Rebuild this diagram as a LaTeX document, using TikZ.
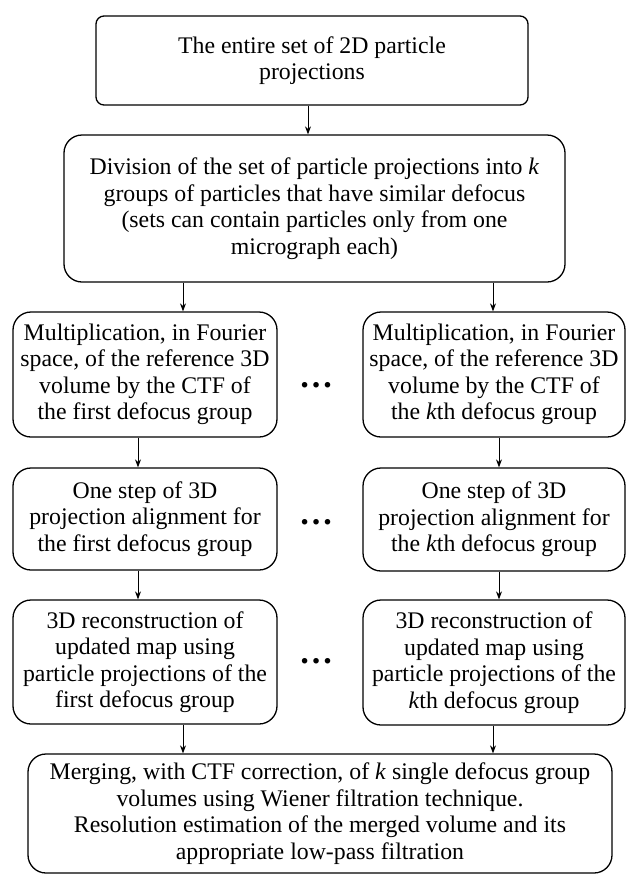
\documentclass[tikz,border=0pt]{standalone}
\usepackage{fontspec}
\setmainfont{Liberation Serif}
\usetikzlibrary{arrows.meta}
\tikzset{
  box/.style={draw, line width=1.3pt, rounded corners=18pt, align=center, inner sep=0pt,
    font=\fontsize{23.8}{26.5}\selectfont},
  arr/.style={line width=0.9pt, -{Stealth[length=8pt,width=6pt]}},
  dots/.style={font=\fontsize{34}{34}\selectfont\bfseries, inner sep=0pt}
}
\begin{document}
\begin{tikzpicture}[x=1pt,y=-1pt]
\useasboundingbox (0,0) rectangle (627,879);
\node[box, rounded corners=8pt, minimum width=432pt, minimum height=89pt] (top) at (312,60.5)
  {The entire set of 2D particle\\projections};
\node[box, minimum width=501pt, minimum height=147pt] (div) at (314.5,208.5)
  {Division of the set of particle projections into \textit{k}\\groups of particles that have similar defocus\\(sets can contain particles only from one\\micrograph each)};
\node[box, minimum width=264pt, minimum height=125pt] (multL) at (145,374.5)
  {Multiplication, in Fourier\\space, of the reference 3D\\volume by the CTF of\\the first defocus group};
\node[box, minimum width=262pt, minimum height=125pt] (multR) at (494,374.5)
  {Multiplication, in Fourier\\space, of the reference 3D\\volume by the CTF of\\the \textit{k}th defocus group};
\node[box, minimum width=264pt, minimum height=102pt] (stepL) at (145,519)
  {One step of 3D\\projection alignment for\\the first defocus group};
\node[box, minimum width=262pt, minimum height=103pt] (stepR) at (494,519.5)
  {One step of 3D\\projection alignment for\\the \textit{k}th defocus group};
\node[box, minimum width=264pt, minimum height=124pt] (recL) at (145,662)
  {3D reconstruction of\\updated map using\\particle projections of the\\first defocus group};
\node[box, minimum width=262pt, minimum height=125pt] (recR) at (494,662.5)
  {3D reconstruction of\\updated map using\\particle projections of the\\\textit{k}th defocus group};
\node[box, minimum width=584pt, minimum height=119pt] (merge) at (320,813.5)
  {Merging, with CTF correction, of \textit{k} single defocus group\\volumes using Wiener filtration technique.\\Resolution estimation of the merged volume and its\\appropriate low-pass filtration};
\node[dots] (d1) at (316,385) {…};
\node[dots] (d2) at (316,522) {…};
\node[dots] (d3) at (316,661) {…};
\coordinate (x0) at (308,0);
\coordinate (xa) at (183,0);
\coordinate (xb) at (493,0);
\coordinate (xc) at (138,0);
\coordinate (xd) at (499,0);
\draw[arr] (top.south -| x0) -- (div.north -| x0);
\draw[arr] (div.south -| xa) -- (multL.north -| xa);
\draw[arr] (div.south -| xb) -- (multR.north -| xb);
\draw[arr] (multL.south -| xc) -- (stepL.north -| xc);
\draw[arr] (multR.south -| xd) -- (stepR.north -| xd);
\draw[arr] (stepL.south -| xc) -- (recL.north -| xc);
\draw[arr] (stepR.south -| xd) -- (recR.north -| xd);
\draw[arr] (recL.south -| xa) -- (merge.north -| xa);
\draw[arr] (recR.south -| xb) -- (merge.north -| xb);
\end{tikzpicture}
\end{document}
